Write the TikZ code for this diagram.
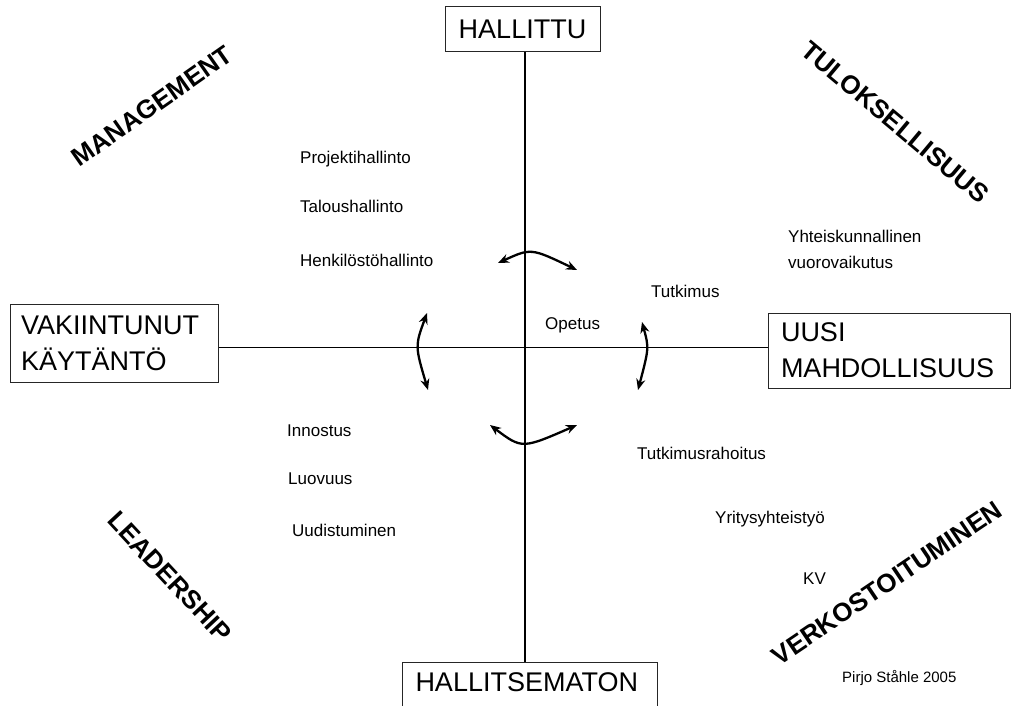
\documentclass[tikz,border=0pt]{standalone}
\usepackage{fontspec}
\setmainfont{Liberation Sans}
\usetikzlibrary{arrows.meta}
\begin{document}
\begin{tikzpicture}[x=1pt,y=-1pt,
  bigbox/.style={draw=black!85, line width=1pt, font=\fontsize{27}{36}\selectfont, inner sep=0pt},
  lbl/.style={anchor=base west, inner sep=0pt, font=\fontsize{17}{20}\selectfont},
  diag/.style={inner sep=0pt, font=\fontsize{26}{30}\selectfont\bfseries},
  axisv/.style={line width=2pt},
  axish/.style={line width=1pt},
  dbl/.style={line width=2.3pt, {Stealth[length=11pt,width=9pt]}-{Stealth[length=11pt,width=9pt]}}
]
\useasboundingbox (0,0) rectangle (1013,706);
\clip (0,0) rectangle (1013,706);
\fill[white] (0,0) rectangle (1013,706);

% boxes
\node[bigbox, minimum width=155pt, minimum height=45pt] (hal) at (522.5,29.5) {HALLITTU};
\node[bigbox, anchor=north west, text width=229pt, align=left, inner xsep=13pt, inner ysep=10pt, text depth=30pt] (hals) at (402,662) {HALLITSEMATON};
\node[bigbox, text width=186pt, inner xsep=11pt, minimum height=78pt, align=left] (vak) at (114,343) {VAKIINTUNUT\\K\"AYT\"ANT\"O};
\node[bigbox, text width=216pt, inner xsep=13pt, minimum height=75pt, align=left] (uusi) at (889,350.5) {UUSI\\MAHDOLLISUUS};

% axes
\draw[axisv] (hal.south -| 525,0) -- (hals.north -| 525,0);
\draw[axish] (vak.east |- 0,347) -- (uusi.west |- 0,347);

% diagonal labels
\node[diag, rotate=35] (man) at (152,106) {MANAGEMENT};
\node[diag, rotate=-40] (tul) at (895,122) {TULOKSELLISUUS};
\node[diag, rotate=-47] (lea) at (170,577) {LEADERSHIP};
\node[diag, rotate=34] (ver) at (887,583) {VERKOSTOITUMINEN};

% small labels
\node[lbl] (l1) at (300,164) {Projektihallinto};
\node[lbl] (l2) at (300,213) {Taloushallinto};
\node[lbl] (l3) at (300,266) {Henkilöstöhallinto};
\node[lbl] (l4) at (788,243) {Yhteiskunnallinen};
\node[lbl] (l5) at (788,269) {vuorovaikutus};
\node[lbl] (l6) at (651,297) {Tutkimus};
\node[lbl] (l7) at (545,329) {Opetus};
\node[lbl] (l8) at (287,436) {Innostus};
\node[lbl] (l9) at (288,484) {Luovuus};
\node[lbl] (l10) at (292,536) {Uudistuminen};
\node[lbl] (l11) at (637,459) {Tutkimusrahoitus};
\node[lbl] (l12) at (715,523) {Yritysyhteistyö};
\node[lbl] (l13) at (803,584) {KV};
\node[lbl, font=\fontsize{15}{18}\selectfont] (l14) at (842,682) {Pirjo Ståhle 2005};

% curved arrows
\coordinate (ta) at (498,263);
\coordinate (tb) at (577,270);
\coordinate (la) at (427,313);
\coordinate (lb) at (428,390);
\coordinate (ra) at (642,322);
\coordinate (rb) at (638,390);
\coordinate (ba) at (490,425);
\coordinate (bb) at (577,425);
\draw[dbl] (ta) .. controls (531,248) .. (tb);
\draw[dbl] (la) .. controls (415,346) .. (lb);
\draw[dbl] (ra) .. controls (649,348) .. (rb);
\draw[dbl] (ba) .. controls (522,449) .. (bb);
\end{tikzpicture}
\end{document}
